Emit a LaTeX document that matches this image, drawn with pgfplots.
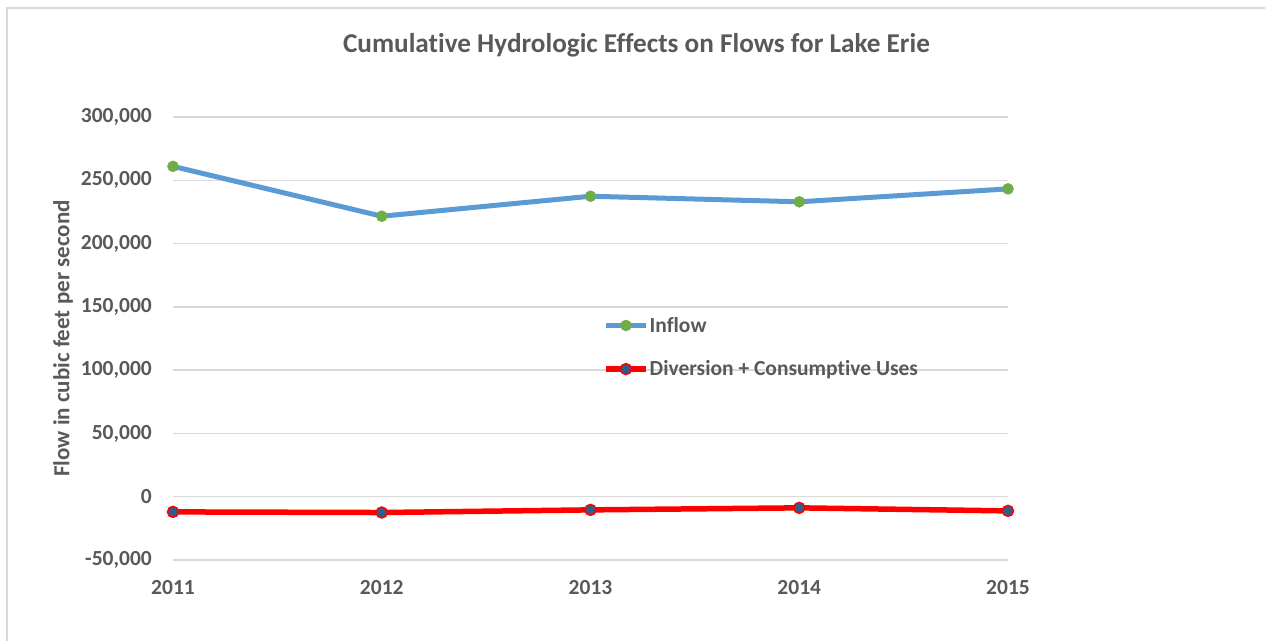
\documentclass[border=0pt]{standalone}
\usepackage{fontspec}
\setmainfont[Ligatures=NoCommon]{Carlito}
\usepackage{pgfplots}
\pgfplotsset{compat=1.18}
\definecolor{txt}{HTML}{595959}
\definecolor{gridc}{HTML}{D9D9D9}
\definecolor{inflowblue}{HTML}{5B9BD5}
\definecolor{inflowgreen}{HTML}{70AD47}
\definecolor{divred}{HTML}{FF0000}
\definecolor{divmark}{HTML}{2E5E8E}
\definecolor{framec}{HTML}{D9D9D9}
\newcommand{\tickfont}{\fontsize{21.5bp}{25bp}\selectfont\bfseries}
\newcommand{\labfont}{\fontsize{23bp}{27bp}\selectfont\bfseries}
\newcommand{\titlefont}{\fontsize{27.2bp}{32bp}\selectfont\bfseries}
\begin{document}
\begin{tikzpicture}
\path[use as bounding box] (-173bp,-81bp) rectangle (1092bp,560bp);
\begin{axis}[
  at={(0bp,0bp)}, anchor=south west,
  scale only axis, width=835bp, height=443bp,
  xmin=2011, xmax=2015, ymin=-50000, ymax=300000,
  xtick={2011,2012,2013,2014,2015},
  xticklabels={2011,2012,2013,2014,2015},
  ytick={-50000,0,50000,100000,150000,200000,250000,300000},
  scaled y ticks=false,
  axis line style={draw=none},
  major tick length=0pt,
  ymajorgrids, major grid style={gridc, line width=1.3bp},
  /pgf/number format/assume math mode=true,
  /pgf/number format/fixed,
  /pgf/number format/1000 sep={,},
  yticklabel style={font=\tickfont, text=txt, anchor=east, inner sep=0pt, xshift=-21bp},
  xticklabel style={font=\tickfont, text=txt, anchor=north, inner sep=0pt, yshift=-20bp},
  title={Cumulative Hydrologic Effects on Flows for Lake Erie},
  title style={font=\titlefont, text=txt, at={(axis description cs:0.5,1)}, anchor=center, xshift=46bp, yshift=66bp},
  ylabel={Flow in cubic feet per second},
  every axis y label/.style={at={(axis description cs:-0.1317,0.5)}, rotate=90, anchor=center, font=\labfont, text=txt},
  legend style={at={(rel axis cs:0.515,0.5508)}, anchor=north west, draw=none, fill=none, inner sep=0pt,
    font=\tickfont, text=txt, row sep=25bp, nodes={inner sep=1bp}},
  legend cell align=left,
  legend image code/.code={\draw[mark repeat=2,mark phase=2] plot coordinates {(0bp,0bp)(20bp,0bp)(40bp,0bp)};},
]
\addplot[inflowblue, line width=5bp, mark=*, mark size=5.5bp, mark options={fill=inflowgreen, draw=inflowgreen, line width=0.5bp}]
  coordinates {(2011,261000)(2012,221600)(2013,237400)(2014,233000)(2015,243200)};
\addlegendentry{Inflow}
\addplot[divred, line width=5.5bp, mark=*, mark size=5.5bp, mark options={fill=divmark, draw=divred, line width=1.5bp}]
  coordinates {(2011,-12000)(2012,-12500)(2013,-10400)(2014,-8800)(2015,-11200)};
\addlegendentry{Diversion + Consumptive Uses}
\end{axis}
\draw[framec, line width=1.2bp] (-166bp,-81bp) -- (-166bp,552bp) -- (1092bp,552bp);
\end{tikzpicture}
\end{document}
